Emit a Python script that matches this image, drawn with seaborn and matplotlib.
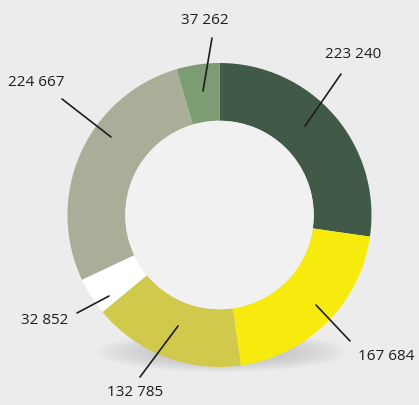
import matplotlib
matplotlib.use("Agg")
import matplotlib.pyplot as plt
import seaborn as sns
from matplotlib.patches import Ellipse

sns.set_theme(style="white")
plt.rcParams['font.family'] = ['Open Sans', 'DejaVu Sans']

labels = ["223 240", "167 684", "132 785", "32 852", "224 667", "37 262"]
values = [223240, 167684, 132785, 32852, 224667, 37262]
colors = ["#415a48", "#f6eb0c", "#d0c94c", "#ffffff", "#aaae98", "#7c9c74"]

# label text positions and leader-line ends (pixels, y downward)
text_pos = [(353, 55), (386, 356), (135, 392), (45, 320), (36, 82), (205, 20)]
line_from = [(341, 74), (350, 341), (140, 377), (77, 313), (62, 99), (212, 38)]
line_to = [(305, 126), (316, 305), (178, 326), (109, 296), (111, 137), (203, 91)]

W, H = 419, 405
bg = "#ececec"
fig = plt.figure(figsize=(W / 100, H / 100), dpi=100, facecolor=bg)
ax = fig.add_axes([0, 0, 1, 1])
ax.set_facecolor(bg)

# soft shadow under the ring
for i in range(10):
    e = Ellipse((222, H - 352), 250 - i * 16, 40 - i * 2.5, color="#a8a8a8",
                alpha=0.07, lw=0, zorder=1)
    ax.add_patch(e)

cx, cy, r = 219.5, H - 215, 152
ax.pie(values, colors=colors, startangle=90, counterclock=False,
       center=(cx, cy), radius=r, frame=True,
       wedgeprops=dict(width=r * 0.38, linewidth=0, antialiased=True))
ax.add_patch(plt.Circle((cx, cy), r * 0.62, color="#f1f1f1", lw=0, zorder=2))
ax.set_xlim(0, W)
ax.set_ylim(0, H)
ax.set_aspect("equal")
ax.axis("off")

for lab, (tx, ty), (x0, y0), (x1, y1) in zip(labels, text_pos, line_from, line_to):
    ax.plot([x0, x1], [H - y0, H - y1], color="#1e1e1e", lw=1.2, zorder=5)
    ax.text(tx, H - ty, lab, ha="center", va="center", fontsize=11,
            color="#1e1e1e", zorder=6)

fig.savefig("out.png", dpi=100, facecolor=bg)
